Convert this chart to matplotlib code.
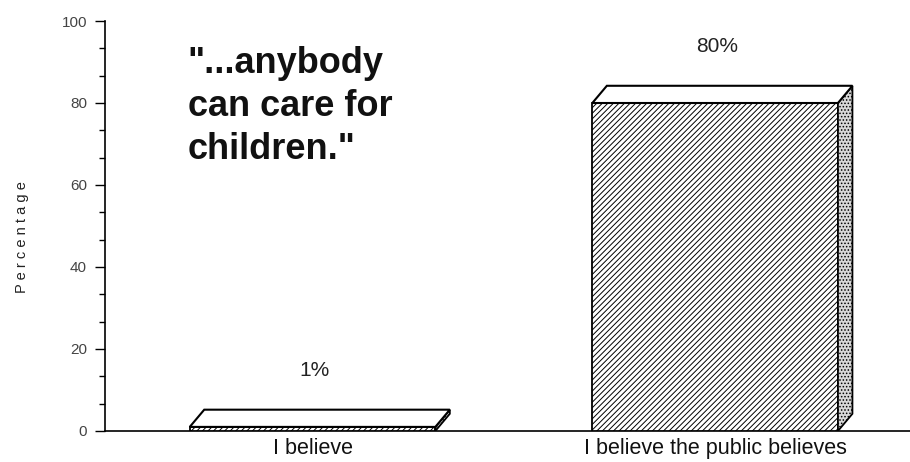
import matplotlib
matplotlib.use("Agg")
import matplotlib.pyplot as plt
from matplotlib.patches import Polygon
from matplotlib.ticker import MultipleLocator

categories = ["I believe", "I believe the public believes"]
values = [1, 80]
value_labels = ["1%", "80%"]
yticks = [0, 20, 40, 60, 80, 100]
quote_text = "\"...anybody\ncan care for\nchildren.\""

plt.rcParams['font.family'] = ['Liberation Sans', 'DejaVu Sans']
plt.rcParams['hatch.linewidth'] = 0.7

fig = plt.figure(figsize=(9.10, 4.62), dpi=100)
ax = fig.add_axes([105/910, 31/462, 805/910, 410/462])

x = list(range(len(categories)))
width = 0.61
dx = 0.036   # depth in x units
dy = 4.2     # depth in y units

bars = ax.bar(x, values, width=width, facecolor='white', edgecolor='black',
              linewidth=1.3, hatch='//////', zorder=3)
for xi, v in zip(x, values):
    l, r = xi - width/2, xi + width/2
    top = Polygon([(l, v), (l + dx, v + dy), (r + dx, v + dy), (r, v)],
                  closed=True, facecolor='white', edgecolor='black', linewidth=1.5, zorder=4)
    side = Polygon([(r, 0), (r, v), (r + dx, v + dy), (r + dx, dy)],
                   closed=True, facecolor='#d8d8d8', edgecolor='black', linewidth=1.3,
                   hatch='.....', zorder=4)
    ax.add_patch(side)
    ax.add_patch(top)

for xi, v, lab in zip(x, values, value_labels):
    ax.text(xi + 0.005, v + 13.8, lab, ha='center', va='center', fontsize=15, color='#222222')

ax.text(-0.31, 94.0, quote_text, ha='left', va='top', fontsize=26, fontweight='bold',
        linespacing=1.3, color='#111111')

ax.set_xlim(-0.5155, 1.484)
ax.set_ylim(0, 100)
ax.set_yticks(yticks)
ax.yaxis.set_minor_locator(MultipleLocator(20/3))
ax.tick_params(axis='y', which='major', length=7, width=1, labelsize=11, labelcolor='#444444', pad=6)
ax.tick_params(axis='y', which='minor', length=4, width=1)
ax.set_xticks(x)
ax.set_xticklabels(categories, fontsize=15.5, color='#111111')
ax.tick_params(axis='x', length=0, pad=5)
ax.set_ylabel("P e r c e n t a g e", fontsize=10.5, color='#222222')
ax.yaxis.set_label_coords(-0.094, 0.473)

for s in ['top', 'right']:
    ax.spines[s].set_visible(False)
ax.spines['left'].set_linewidth(1.2)
ax.spines['bottom'].set_linewidth(1.2)

fig.savefig("out.png", dpi=100)
